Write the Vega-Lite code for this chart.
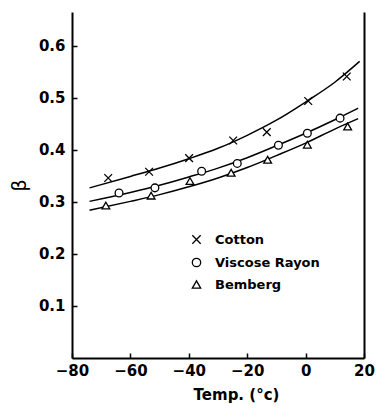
{
  "$schema": "https://vega.github.io/schema/vega-lite/v6.json",
  "width": 292,
  "height": 346,
  "autosize": "none",
  "padding": {"left": 72, "top": 12, "right": 14, "bottom": 56},
  "background": "white",
  "config": {
    "view": {"stroke": null},
    "font": "DejaVu Sans",
    "axis": {"grid": false, "domainColor": "black", "domainWidth": 2, "tickColor": "black", "tickWidth": 1.5, "labelColor": "black", "titleColor": "black", "labelFontWeight": "bold", "titleFontWeight": "bold"}
  },
  "datasets": {
    "pts": [
      {"fiber": "Cotton", "temp": -67.6, "beta": 0.346},
      {"fiber": "Cotton", "temp": -53.6, "beta": 0.358},
      {"fiber": "Cotton", "temp": -39.9, "beta": 0.384},
      {"fiber": "Cotton", "temp": -24.8, "beta": 0.418},
      {"fiber": "Cotton", "temp": -13.3, "beta": 0.434},
      {"fiber": "Cotton", "temp": 0.9, "beta": 0.494},
      {"fiber": "Cotton", "temp": 14.1, "beta": 0.541},
      {"fiber": "Viscose Rayon", "temp": -63.9, "beta": 0.317},
      {"fiber": "Viscose Rayon", "temp": -51.6, "beta": 0.327},
      {"fiber": "Viscose Rayon", "temp": -35.6, "beta": 0.359},
      {"fiber": "Viscose Rayon", "temp": -23.4, "beta": 0.374},
      {"fiber": "Viscose Rayon", "temp": -9.3, "beta": 0.409},
      {"fiber": "Viscose Rayon", "temp": 0.6, "beta": 0.432},
      {"fiber": "Viscose Rayon", "temp": 11.8, "beta": 0.461},
      {"fiber": "Bemberg", "temp": -68.4, "beta": 0.293},
      {"fiber": "Bemberg", "temp": -52.9, "beta": 0.312},
      {"fiber": "Bemberg", "temp": -39.6, "beta": 0.34},
      {"fiber": "Bemberg", "temp": -25.5, "beta": 0.356},
      {"fiber": "Bemberg", "temp": -13.0, "beta": 0.381},
      {"fiber": "Bemberg", "temp": 0.6, "beta": 0.41},
      {"fiber": "Bemberg", "temp": 14.4, "beta": 0.445}
    ],
    "curves": [
      {"fiber": "Cotton", "temp": -74, "beta": 0.327},
      {"fiber": "Cotton", "temp": -60, "beta": 0.349},
      {"fiber": "Cotton", "temp": -50, "beta": 0.365},
      {"fiber": "Cotton", "temp": -40, "beta": 0.383},
      {"fiber": "Cotton", "temp": -30, "beta": 0.403},
      {"fiber": "Cotton", "temp": -20, "beta": 0.428},
      {"fiber": "Cotton", "temp": -10, "beta": 0.457},
      {"fiber": "Cotton", "temp": 0, "beta": 0.492},
      {"fiber": "Cotton", "temp": 10, "beta": 0.53},
      {"fiber": "Cotton", "temp": 18.5, "beta": 0.57},
      {"fiber": "Viscose Rayon", "temp": -74, "beta": 0.301},
      {"fiber": "Viscose Rayon", "temp": -60, "beta": 0.318},
      {"fiber": "Viscose Rayon", "temp": -50, "beta": 0.332},
      {"fiber": "Viscose Rayon", "temp": -40, "beta": 0.348},
      {"fiber": "Viscose Rayon", "temp": -30, "beta": 0.365},
      {"fiber": "Viscose Rayon", "temp": -20, "beta": 0.385},
      {"fiber": "Viscose Rayon", "temp": -10, "beta": 0.408},
      {"fiber": "Viscose Rayon", "temp": 0, "beta": 0.432},
      {"fiber": "Viscose Rayon", "temp": 10, "beta": 0.458},
      {"fiber": "Viscose Rayon", "temp": 18, "beta": 0.48},
      {"fiber": "Bemberg", "temp": -74, "beta": 0.284},
      {"fiber": "Bemberg", "temp": -60, "beta": 0.301},
      {"fiber": "Bemberg", "temp": -50, "beta": 0.314},
      {"fiber": "Bemberg", "temp": -40, "beta": 0.329},
      {"fiber": "Bemberg", "temp": -30, "beta": 0.346},
      {"fiber": "Bemberg", "temp": -20, "beta": 0.366},
      {"fiber": "Bemberg", "temp": -10, "beta": 0.389},
      {"fiber": "Bemberg", "temp": 0, "beta": 0.413},
      {"fiber": "Bemberg", "temp": 10, "beta": 0.44},
      {"fiber": "Bemberg", "temp": 18, "beta": 0.46}
    ]
  },
  "resolve": {"axis": {"y": "independent"}, "legend": {"shape": "independent"}},
  "layer": [
    {
      "data": {"name": "curves"},
      "mark": {"type": "line", "interpolate": "monotone", "color": "black", "strokeWidth": 1.5},
      "encoding": {
        "x": {"field": "temp", "type": "quantitative", "scale": {"domain": [-80, 20], "nice": false},
          "axis": {"values": [-80, -60, -40, -20, 0, 20], "tickSize": -5, "labelFontSize": 15, "labelPadding": 10, "labelFlush": false, "title": "Temp. (°c)", "titleFontSize": 15, "titlePadding": 9, "titleX": 164}},
        "y": {"field": "beta", "type": "quantitative", "scale": {"domain": [0, 0.665], "nice": false, "zero": false},
          "axis": {"orient": "left", "values": [0.1, 0.2, 0.3, 0.4, 0.5, 0.6], "format": ".1f", "tickSize": -5, "labelFontSize": 15, "labelPadding": 12, "title": "β", "titleFontSize": 19, "titleFontWeight": "normal", "titlePadding": 9}},
        "detail": {"field": "fiber"}
      }
    },
    {
      "data": {"name": "pts"},
      "mark": {"type": "point", "filled": true, "color": "white", "size": 60, "opacity": 1},
      "encoding": {
        "x": {"field": "temp", "type": "quantitative"},
        "y": {"field": "beta", "type": "quantitative", "axis": {"orient": "right", "labels": false, "ticks": false, "title": null}},
        "shape": {"field": "fiber", "type": "nominal",
          "scale": {"domain": ["Cotton", "Viscose Rayon", "Bemberg"], "range": ["M-1,-1L1,1M1,-1L-1,1", "circle", "triangle-up"]},
          "legend": null}
      }
    },
    {
      "data": {"name": "pts"},
      "mark": {"type": "point", "filled": false, "color": "black", "strokeWidth": 1.3, "size": 60, "opacity": 1},
      "encoding": {
        "x": {"field": "temp", "type": "quantitative"},
        "y": {"field": "beta", "type": "quantitative", "axis": null},
        "shape": {"field": "fiber", "type": "nominal",
          "legend": {"orient": "none", "legendX": 118, "legendY": 221, "title": null, "labelFontSize": 13, "labelFontWeight": "bold", "labelColor": "black", "symbolStrokeColor": "black", "symbolStrokeWidth": 1.3, "symbolSize": 70, "rowPadding": 8, "labelOffset": 12}}
      }
    }
  ]
}
